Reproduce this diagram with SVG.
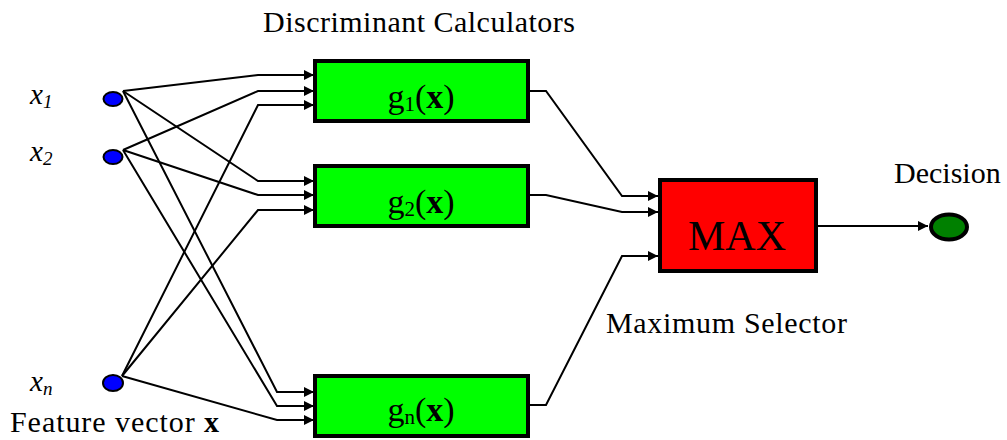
<svg xmlns="http://www.w3.org/2000/svg" width="1007" height="440" viewBox="0 0 1007 440">
<defs>
<marker id="arr" viewBox="0 0 10 10" refX="10" refY="5" markerWidth="10" markerHeight="10" markerUnits="userSpaceOnUse" orient="auto">
<path d="M0,0 L10,5 L0,10 z" fill="#000"/>
</marker>
<style>
text{font-family:'Liberation Serif','DejaVu Serif',serif;fill:#000}
.c{fill:none;stroke:#000;stroke-width:2;marker-end:url(#arr)}
.box{stroke:#000;stroke-width:4}
.in{fill:#0000ff;stroke:#000;stroke-width:2}
</style>
</defs>
<rect width="1007" height="440" fill="#fff"/>
<g id="connectors">
<polyline class="c" points="123,91 258,75 314,75"/>
<polyline class="c" points="123,91 258,181 314,181"/>
<polyline class="c" points="123,91 277,392 314,392"/>
<polyline class="c" points="123,150 258,91 314,91"/>
<polyline class="c" points="123,150 258,195 314,195"/>
<polyline class="c" points="123,150 277,406 314,406"/>
<polyline class="c" points="122,376 258,105 314,105"/>
<polyline class="c" points="122,376 258,210 314,210"/>
<polyline class="c" points="122,376 277,420 314,420"/>
<polyline class="c" points="530,91 546,91 622,196 658,196"/>
<polyline class="c" points="530,195 546,195 622,212 658,212"/>
<polyline class="c" points="530,405 546,405 622,256 658,256"/>
<polyline class="c" points="818,226 928,226"/>
</g>
<g id="x1"><ellipse class="in" cx="113" cy="99" rx="9.5" ry="7"/><text x="30" y="104" font-size="29" font-style="italic">x<tspan font-size="19" dy="4">1</tspan></text></g>
<g id="x2"><ellipse class="in" cx="113" cy="157" rx="9.5" ry="7"/><text x="30" y="161" font-size="29" font-style="italic">x<tspan font-size="19" dy="4">2</tspan></text></g>
<g id="xn"><ellipse class="in" cx="113" cy="383" rx="10" ry="8"/><text x="30" y="391" font-size="29" font-style="italic">x<tspan font-size="19" dy="4">n</tspan></text></g>
<g id="g1"><rect class="box" x="315" y="61" width="213" height="60" fill="#00ff00"/><text x="421" y="108" font-size="34" text-anchor="middle">g<tspan font-size="21" dy="3">1</tspan><tspan dy="-3">(</tspan><tspan font-weight="bold">x</tspan>)</text></g>
<g id="g2"><rect class="box" x="315" y="166" width="213" height="60" fill="#00ff00"/><text x="421" y="213" font-size="34" text-anchor="middle">g<tspan font-size="21" dy="3">2</tspan><tspan dy="-3">(</tspan><tspan font-weight="bold">x</tspan>)</text></g>
<g id="gn"><rect class="box" x="315" y="376" width="213" height="60" fill="#00ff00"/><text x="421" y="421" font-size="34" text-anchor="middle">g<tspan font-size="21" dy="3">n</tspan><tspan dy="-3">(</tspan><tspan font-weight="bold">x</tspan>)</text></g>
<g id="max"><rect class="box" x="660" y="180" width="156" height="91" fill="#ff0000"/><text x="737" y="250" font-size="42" text-anchor="middle">MAX</text></g>
<g id="decision"><ellipse cx="949" cy="227" rx="18" ry="12.5" fill="#008000" stroke="#000" stroke-width="4"/><text x="894" y="183" font-size="30">Decision</text></g>
<g id="labels">
<text x="263" y="32" font-size="30" textLength="312">Discriminant Calculators</text>
<text x="606" y="333" font-size="30" textLength="241">Maximum Selector</text>
<text x="10" y="432" font-size="30" textLength="209">Feature vector <tspan font-weight="bold">x</tspan></text>
</g>
</svg>
